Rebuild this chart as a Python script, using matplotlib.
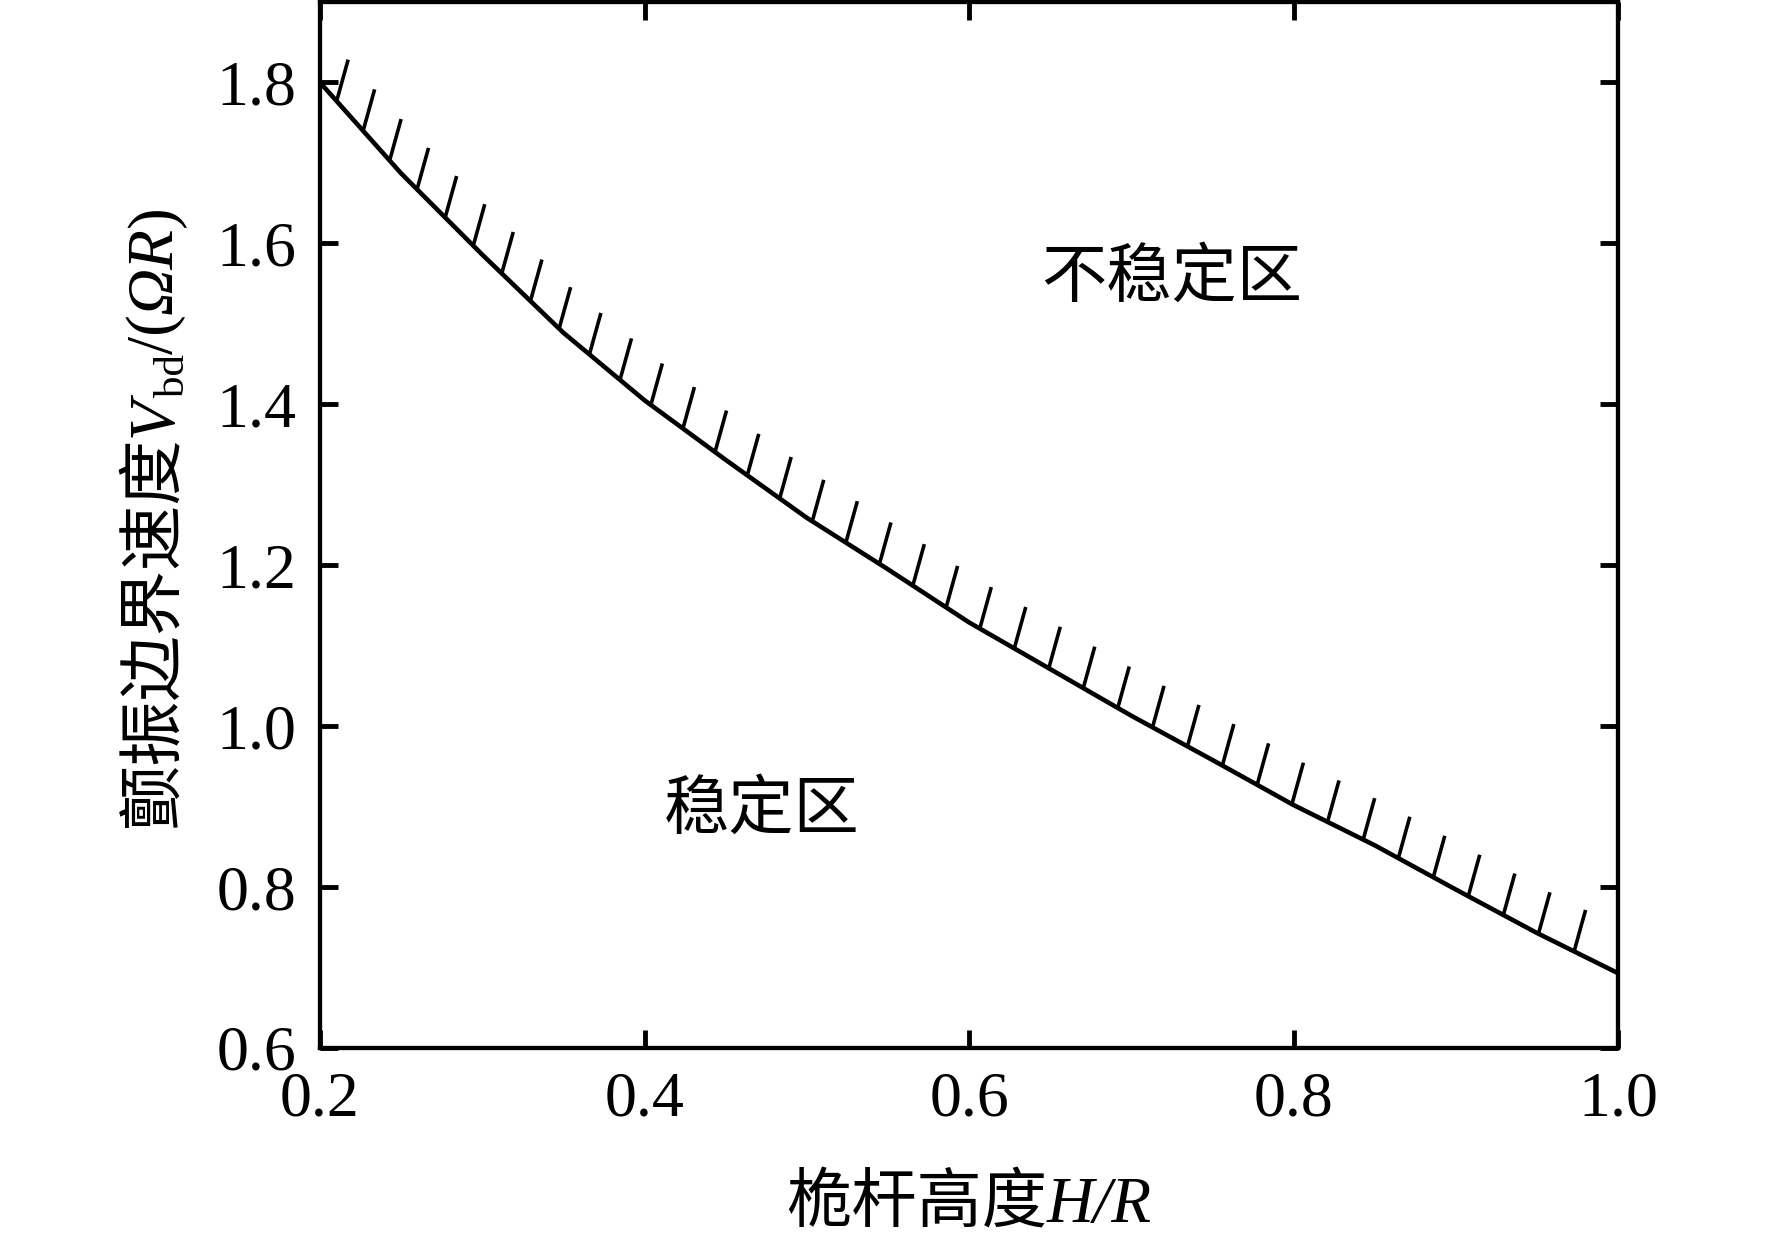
import numpy as np
import matplotlib
matplotlib.use("Agg")
import matplotlib.pyplot as plt
from matplotlib.collections import LineCollection
from matplotlib.transforms import IdentityTransform

# boundary curve
h_r = [0.20, 0.25, 0.30, 0.35, 0.40, 0.45, 0.50, 0.55, 0.60,
       0.65, 0.70, 0.75, 0.80, 0.85, 0.90, 0.95, 1.00]
v_bd = [1.800, 1.687, 1.586, 1.489, 1.405, 1.331, 1.259, 1.195, 1.129,
        1.071, 1.013, 0.958, 0.902, 0.852, 0.797, 0.743, 0.693]

x_ticks = [0.2, 0.4, 0.6, 0.8, 1.0]
x_tick_labels = ["0.2", "0.4", "0.6", "0.8", "1.0"]
y_ticks = [0.6, 0.8, 1.0, 1.2, 1.4, 1.6, 1.8]
y_tick_labels = ["0.6", "0.8", "1.0", "1.2", "1.4", "1.6", "1.8"]

SERIF = "Liberation Serif"
CJK = "Noto Sans CJK SC"

W, H = 1772, 1242
fig = plt.figure(figsize=(W / 100, H / 100), dpi=100)
ax = fig.add_axes([320 / W, 1 - 1048 / H, (1618 - 320) / W, (1048 - 2) / H])
ax.set_xlim(0.2, 1.0)
ax.set_ylim(0.6, 1.9)

ax.plot(h_r, v_bd, color="black", lw=3.3, solid_joinstyle="miter")

# hatch marks on the unstable side, evenly spaced along the curve (pixels)
pts = ax.transData.transform(np.column_stack([h_r, v_bd]))
seg = np.hypot(*np.diff(pts, axis=0).T)
s = np.concatenate([[0], np.cumsum(seg)])
s_h = np.linspace(25, s[-1] - 49, 39)
bx = np.interp(s_h, s, pts[:, 0])
by = np.interp(s_h, s, pts[:, 1])
ang = np.deg2rad(74.5)
hl = 43
inv = ax.transData.inverted()
p0 = inv.transform(np.column_stack([bx, by]))
p1 = inv.transform(np.column_stack([bx + hl * np.cos(ang), by + hl * np.sin(ang)]))
ax.add_collection(LineCollection(np.stack([p0, p1], axis=1), colors="black",
                                 linewidths=2.6, capstyle="butt"))

ax.text(0.725, 1.556, "不稳定区", family=CJK, fontsize=47, ha="center", va="center")
ax.text(0.4724, 0.895, "稳定区", family=CJK, fontsize=47, ha="center", va="center")

ax.set_xticks(x_ticks)
ax.set_xticklabels(x_tick_labels, family=SERIF)
ax.set_yticks(y_ticks)
ax.set_yticklabels(y_tick_labels, family=SERIF)
ax.tick_params(direction="in", length=13, width=3.5, top=True, right=True,
               labelsize=46, pad=17)
for sp in ax.spines.values():
    sp.set_linewidth(3.1)


def place_pieces(pieces, x0, y0, vertical=False):
    # pieces: (text, props, baseline drop in px) laid end to end, centred
    renderer = fig.canvas.get_renderer()
    texts = []
    for txt, kw, drop in pieces:
        t = fig.text(0, 0, txt, transform=IdentityTransform(),
                     rotation=90 if vertical else 0, rotation_mode="anchor",
                     ha="left", va="baseline", **kw)
        texts.append((t, drop))
    sizes = []
    for t, _ in texts:
        bb = t.get_window_extent(renderer)
        sizes.append(bb.height if vertical else bb.width)
    pos = -sum(sizes) / 2
    for (t, drop), sz in zip(texts, sizes):
        if vertical:
            t.set_position((x0 + drop, y0 + pos))
        else:
            t.set_position((x0 + pos, y0 - drop))
        pos += sz


cjk_kw = dict(family=CJK, fontsize=47)
lat_kw = dict(family=SERIF, fontsize=47)
ital_kw = dict(family=SERIF, fontsize=47, style="italic")
sub_kw = dict(family=SERIF, fontsize=31)

place_pieces([("桅杆高度", cjk_kw, 0), ("H/R", ital_kw, 0)], 969, H - 1222)
place_pieces([("颤振边界速度", cjk_kw, 0),
              ("V", ital_kw, 0),
              ("bd", sub_kw, 12),
              ("/(", lat_kw, 0),
              ("ΩR", ital_kw, 0),
              (")", lat_kw, 0)], 172, H - 517, vertical=True)

fig.savefig("out.png", dpi=100)
